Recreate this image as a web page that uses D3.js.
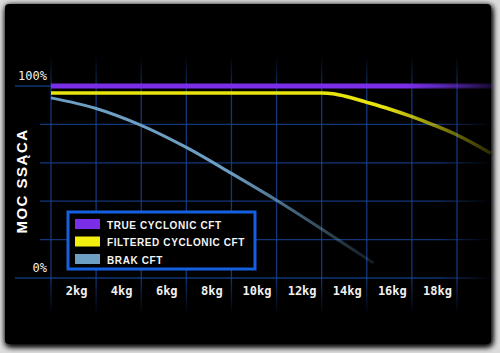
<!DOCTYPE html>
<html>
<head>
<meta charset="utf-8">
<script src="https://cdn.jsdelivr.net/npm/d3@7"></script>
<style>
html,body{margin:0;padding:0;background:#dcdcdc;}
svg{display:block;}
</style>
</head>
<body>
<div id="chart"></div>
<script>
let chart_width = 500;
let chart_height = 353;

// kg positions of the drawn points
let true_kg = [1, 20.6];
let true_val = [100, 100];

let filtered_kg = [1, 13, 13.5, 14, 15, 16, 17, 18, 19, 20.5];
let filtered_val = [96.4, 96.4, 96.0, 94.8, 91.5, 88, 84, 79.5, 74.5, 65];

let brak_kg = [1, 3, 5, 7, 9, 11, 13, 15.3];
let brak_val = [93.8, 88.3, 79.5, 68, 54.5, 40.5, 25.5, 7.8];

let x_ticks = [2, 4, 6, 8, 10, 12, 14, 16, 18];
let x_grid = [1, 3, 5, 7, 9, 11, 13, 15, 17, 19];
let y_grid = [0, 20, 40, 60, 80, 100];
let y_labels = [0, 100];

let legend_names = ['TRUE CYCLONIC CFT', 'FILTERED CYCLONIC CFT', 'BRAK CFT'];
let legend_colors = ['#7a2ee8', '#f2ee10', '#6d9fc4'];

const xScale = d3.scaleLinear().domain([1, 19]).range([51, 457]);
const yScale = d3.scaleLinear().domain([0, 100]).range([278, 86]);

let svg = d3.select('#chart')
    .append('svg')
    .attr('width', chart_width)
    .attr('height', chart_height);

let defs = svg.append('defs');

let shadow = defs.append('filter')
    .attr('id', 'shadow')
    .attr('x', '-10%').attr('y', '-10%')
    .attr('width', '120%').attr('height', '120%');
shadow.append('feGaussianBlur').attr('in', 'SourceAlpha').attr('stdDeviation', 3).attr('result', 'b');
shadow.append('feOffset').attr('in', 'b').attr('dx', 1).attr('dy', 2).attr('result', 'o');
let merge = shadow.append('feMerge');
merge.append('feMergeNode').attr('in', 'o');
merge.append('feMergeNode').attr('in', 'o');
merge.append('feMergeNode').attr('in', 'SourceGraphic');

let glow = defs.append('filter').attr('id', 'glow')
    .attr('x', '-5%').attr('y', '-50%').attr('width', '110%').attr('height', '200%');
glow.append('feGaussianBlur').attr('stdDeviation', 1.2);

// fading gradients
let gridColor = '#15418f';
let vfade = defs.append('linearGradient').attr('id', 'vfade')
    .attr('gradientUnits', 'userSpaceOnUse')
    .attr('x1', 0).attr('y1', 55).attr('x2', 0).attr('y2', 315);
vfade.append('stop').attr('offset', 0).attr('stop-color', gridColor).attr('stop-opacity', 0);
vfade.append('stop').attr('offset', 0.15).attr('stop-color', gridColor).attr('stop-opacity', 0.85);
vfade.append('stop').attr('offset', 0.85).attr('stop-color', gridColor).attr('stop-opacity', 0.85);
vfade.append('stop').attr('offset', 1).attr('stop-color', gridColor).attr('stop-opacity', 0);

let hfade = defs.append('linearGradient').attr('id', 'hfade')
    .attr('gradientUnits', 'userSpaceOnUse')
    .attr('x1', 15).attr('y1', 0).attr('x2', 492).attr('y2', 0);
hfade.append('stop').attr('offset', 0).attr('stop-color', gridColor).attr('stop-opacity', 0.85);
hfade.append('stop').attr('offset', 0.88).attr('stop-color', gridColor).attr('stop-opacity', 0.85);
hfade.append('stop').attr('offset', 1).attr('stop-color', gridColor).attr('stop-opacity', 0);

function fadeRight(id, color, x1, x2, start){
    let g = defs.append('linearGradient').attr('id', id)
        .attr('gradientUnits', 'userSpaceOnUse')
        .attr('x1', x1).attr('y1', 0).attr('x2', x2).attr('y2', 0);
    g.append('stop').attr('offset', 0).attr('stop-color', color).attr('stop-opacity', 1);
    g.append('stop').attr('offset', start).attr('stop-color', color).attr('stop-opacity', 1);
    g.append('stop').attr('offset', 1).attr('stop-color', color).attr('stop-opacity', 0.15);
}
fadeRight('purpleFade', '#7a2ee8', 51, 495, 0.8);
fadeRight('yellowFade', '#e8e40e', 51, 495, 0.75);
fadeRight('brakFade', '#6d9fc4', 51, 375, 0.55);

// panel
svg.append('rect')
    .attr('x', 5).attr('y', 4)
    .attr('width', 486).attr('height', 340)
    .attr('rx', 4)
    .attr('fill', '#000')
    .attr('filter', 'url(#shadow)');

// grid
let grid = svg.append('g');
grid.selectAll('.vgrid')
    .data(x_grid)
    .enter()
    .append('line')
    .attr('x1', d => xScale(d)).attr('x2', d => xScale(d))
    .attr('y1', 55).attr('y2', 315)
    .attr('stroke', 'url(#vfade)')
    .attr('stroke-width', 1.3);

grid.selectAll('.hgrid')
    .data(y_grid)
    .enter()
    .append('line')
    .attr('x1', d => (d === 0 || d === 100) ? 15 : 40)
    .attr('x2', 492)
    .attr('y1', d => yScale(d)).attr('y2', d => yScale(d))
    .attr('stroke', 'url(#hfade)')
    .attr('stroke-width', 1.3);

// y labels
svg.selectAll('.ylab')
    .data(y_labels)
    .enter()
    .append('text')
    .text(d => d + '%')
    .attr('x', 47)
    .attr('y', d => yScale(d) - 6)
    .attr('text-anchor', 'end')
    .attr('fill', '#f0f0f0')
    .style('font-family', '"DejaVu Sans Mono", monospace')
    .style('font-size', '12px');

// y title
svg.append('text')
    .text('MOC SSĄCA')
    .attr('transform', 'translate(27,181) rotate(-90)')
    .attr('text-anchor', 'middle')
    .attr('fill', '#fff')
    .style('font-family', '"Liberation Sans", Arial, sans-serif')
    .style('font-weight', 'bold')
    .style('font-size', '15px')
    .style('letter-spacing', '1.5px');

// x labels
svg.selectAll('.xlab')
    .data(x_ticks)
    .enter()
    .append('text')
    .text(d => d + 'kg')
    .attr('x', d => xScale(d) + 3)
    .attr('y', 295)
    .attr('text-anchor', 'middle')
    .attr('fill', '#f0f0f0')
    .style('font-family', '"DejaVu Sans Mono", monospace')
    .style('font-weight', 'bold')
    .style('font-size', '12px');

// series
function zip(a, b){ return a.map((v, i) => ({kg: v, val: b[i]})); }

let line = d3.line()
    .x(d => xScale(d.kg))
    .y(d => yScale(d.val))
    .curve(d3.curveMonotoneX);

let smoothLine = d3.line()
    .x(d => xScale(d.kg))
    .y(d => yScale(d.val))
    .curve(d3.curveCatmullRom.alpha(0.5));

let lines = svg.append('g');
lines.append('path')
    .datum(zip(true_kg, true_val))
    .attr('d', line)
    .attr('fill', 'none')
    .attr('stroke', 'url(#purpleFade)')
    .attr('stroke-width', 7)
    .attr('filter', 'url(#glow)');
lines.append('path')
    .datum(zip(true_kg, true_val))
    .attr('d', line)
    .attr('fill', 'none')
    .attr('stroke', 'url(#purpleFade)')
    .attr('stroke-width', 5);

lines.append('path')
    .datum(zip(filtered_kg, filtered_val))
    .attr('d', line)
    .attr('fill', 'none')
    .attr('stroke', 'url(#yellowFade)')
    .attr('stroke-width', 3.5);

lines.append('path')
    .datum(zip(brak_kg, brak_val))
    .attr('d', smoothLine)
    .attr('fill', 'none')
    .attr('stroke', 'url(#brakFade)')
    .attr('stroke-width', 3);

// legend
let legend = svg.append('g');
legend.append('rect')
    .attr('x', 68).attr('y', 212)
    .attr('width', 187).attr('height', 57)
    .attr('fill', '#000')
    .attr('stroke', '#1560e0')
    .attr('stroke-width', 3);

legend.selectAll('.swatch')
    .data(legend_names)
    .enter()
    .append('rect')
    .attr('x', 75)
    .attr('y', (d, i) => 219 + i * 17.5)
    .attr('width', 25).attr('height', 10)
    .attr('fill', (d, i) => legend_colors[i]);

legend.selectAll('.ltext')
    .data(legend_names)
    .enter()
    .append('text')
    .text(d => d)
    .attr('x', 107)
    .attr('y', (d, i) => 228.5 + i * 17.5)
    .attr('fill', '#f4f4f4')
    .style('font-family', '"Liberation Sans", Arial, sans-serif')
    .style('font-weight', 'bold')
    .style('font-size', '10px')
    .style('letter-spacing', '0.6px');
</script>
</body>
</html>
